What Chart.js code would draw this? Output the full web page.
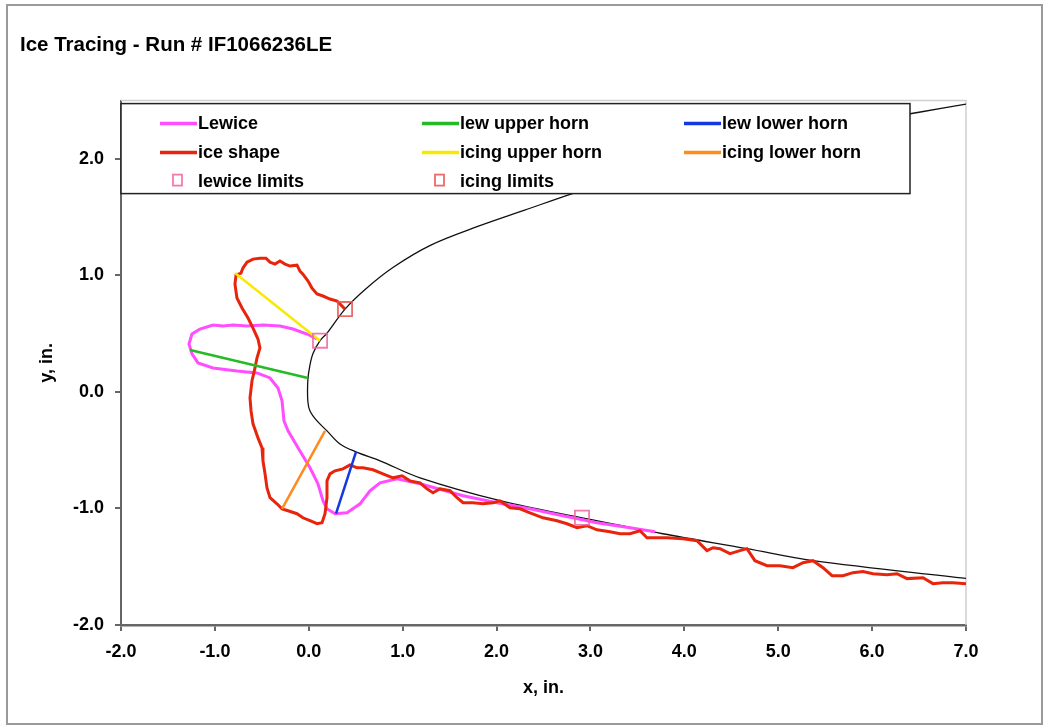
<!DOCTYPE html>
<html>
<head>
<meta charset="utf-8">
<script src="https://cdn.jsdelivr.net/npm/chart.js@4"></script>
<style>
  body { margin: 0; background: #fff; }
  #chart { display: block; }
</style>
</head>
<body>
<canvas id="chart" width="1044" height="728"></canvas>
<script>
// airfoil surface (black), upper trailing part down round the nose to lower trailing part
const airfoilX = [7.0, 6.5, 5.5, 4.5, 3.5, 2.8, 2.3, 1.8, 1.3, 0.9, 0.6, 0.386, 0.19, 0.12, 0.045, 0.01, -0.01, -0.01, 0.013, 0.088, 0.194, 0.332, 0.503, 0.759, 1.185, 2.07, 2.91, 3.77, 4.667, 5.37, 7.0];
const airfoilY = [2.47, 2.40, 2.25, 2.07, 1.88, 1.70, 1.56, 1.42, 1.26, 1.07, 0.88, 0.711, 0.50, 0.44, 0.33, 0.22, 0.10, -0.08, -0.163, -0.249, -0.334, -0.446, -0.514, -0.591, -0.737, -0.94, -1.08, -1.217, -1.345, -1.448, -1.60];

// Lewice predicted shape
const lewiceX = [0.088, -0.019, -0.168, -0.307, -0.488, -0.658, -0.807, -0.914, -1.020, -1.159, -1.244, -1.276, -1.244, -1.180, -1.020, -0.765, -0.552, -0.413, -0.328, -0.285, -0.264, -0.221, -0.094, 0.013, 0.098, 0.151, 0.194, 0.279, 0.407, 0.546, 0.652, 0.759, 0.940, 1.185, 1.643, 2.005, 2.356, 2.708, 3.070, 3.421, 3.687];
const lewiceY = [0.454, 0.497, 0.540, 0.566, 0.574, 0.566, 0.574, 0.566, 0.574, 0.540, 0.497, 0.411, 0.326, 0.249, 0.206, 0.180, 0.163, 0.120, 0.034, -0.077, -0.249, -0.334, -0.506, -0.651, -0.788, -0.934, -1.003, -1.045, -1.037, -0.960, -0.848, -0.780, -0.745, -0.788, -0.891, -0.951, -1.003, -1.063, -1.123, -1.165, -1.200];

// traced ice shape
const iceX = [0.386, 0.301, 0.226, 0.151, 0.088, 0.034, -0.008, -0.062, -0.094, -0.125, -0.200, -0.253, -0.307, -0.360, -0.413, -0.456, -0.520, -0.594, -0.658, -0.701, -0.722, -0.775, -0.786, -0.765, -0.711, -0.647, -0.594, -0.541, -0.520, -0.552, -0.573, -0.605, -0.626, -0.615, -0.594, -0.541, -0.498, -0.488, -0.466, -0.445, -0.413, -0.339, -0.285, -0.221, -0.126, -0.062, 0.013, 0.088, 0.141, 0.173, 0.194, 0.194, 0.226, 0.279, 0.364, 0.439, 0.514, 0.577, 0.684, 0.790, 0.897, 0.993, 1.078, 1.185, 1.259, 1.323, 1.398, 1.504, 1.579, 1.643, 1.749, 1.856, 1.962, 2.037, 2.143, 2.250, 2.356, 2.495, 2.644, 2.750, 2.857, 2.963, 3.070, 3.208, 3.315, 3.421, 3.528, 3.602, 3.709, 3.815, 3.986, 4.135, 4.241, 4.305, 4.380, 4.486, 4.593, 4.667, 4.752, 4.880, 5.019, 5.157, 5.264, 5.370, 5.477, 5.573, 5.690, 5.796, 5.903, 6.009, 6.159, 6.265, 6.372, 6.542, 6.648, 6.755, 6.861, 7.0];
const iceY = [0.711, 0.780, 0.797, 0.823, 0.840, 0.891, 0.951, 1.011, 1.037, 1.088, 1.080, 1.097, 1.123, 1.097, 1.114, 1.148, 1.148, 1.140, 1.114, 1.063, 1.020, 1.003, 0.925, 0.806, 0.720, 0.634, 0.548, 0.454, 0.377, 0.291, 0.206, 0.094, -0.051, -0.163, -0.274, -0.394, -0.480, -0.591, -0.703, -0.823, -0.908, -0.960, -1.003, -1.020, -1.045, -1.080, -1.105, -1.131, -1.123, -1.045, -0.908, -0.763, -0.703, -0.677, -0.660, -0.626, -0.651, -0.651, -0.668, -0.703, -0.737, -0.720, -0.763, -0.780, -0.831, -0.865, -0.831, -0.848, -0.908, -0.951, -0.951, -0.960, -0.951, -0.934, -0.994, -1.003, -1.037, -1.080, -1.105, -1.131, -1.165, -1.148, -1.183, -1.200, -1.217, -1.217, -1.191, -1.251, -1.251, -1.251, -1.260, -1.277, -1.362, -1.337, -1.345, -1.388, -1.362, -1.345, -1.448, -1.491, -1.491, -1.508, -1.465, -1.448, -1.508, -1.577, -1.577, -1.551, -1.542, -1.560, -1.568, -1.560, -1.602, -1.594, -1.645, -1.637, -1.637, -1.645];

// horn lines
const lewUpperX = [-1.265, -0.009];
const lewUpperY = [0.36, 0.12];
const lewLowerX = [0.29, 0.503];
const lewLowerY = [-1.045, -0.514];
const icingUpperX = [-0.786, 0.12];
const icingUpperY = [1.02, 0.44];
const icingLowerX = [-0.285, 0.173];
const icingLowerY = [-1.003, -0.334];

// limit markers
const lewiceLimitsX = [0.12, 2.91];
const lewiceLimitsY = [0.44, -1.08];
const icingLimitsX = [0.386];
const icingLimitsY = [0.711];

const xTicks = [-2, -1, 0, 1, 2, 3, 4, 5, 6, 7];
const yTicks = [-2, -1, 0, 1, 2];

const legendOrder = ['Lewice', 'lew upper horn', 'lew lower horn', 'ice shape', 'icing upper horn', 'icing lower horn', 'lewice limits', 'icing limits'];

const fontFamily = '"Liberation Sans", Arial, sans-serif';

function pts(xs, ys) {
  return xs.map((x, i) => ({ x: x, y: ys[i] }));
}

function lineSet(label, xs, ys, color, width, order) {
  return {
    label: label,
    data: pts(xs, ys),
    showLine: true,
    borderColor: color,
    backgroundColor: color,
    borderWidth: width,
    pointRadius: 0,
    tension: 0,
    order: order,
  };
}

const datasets = [
  Object.assign(lineSet('', airfoilX, airfoilY, '#111', 1.3, 10), { tension: 0.35 }),
  lineSet('Lewice', lewiceX, lewiceY, '#ff4dff', 3, 6),
  lineSet('ice shape', iceX, iceY, '#e8250c', 3, 5),
  lineSet('lew upper horn', lewUpperX, lewUpperY, '#26bb26', 2.5, 3),
  lineSet('lew lower horn', lewLowerX, lewLowerY, '#1438e0', 2.5, 3),
  lineSet('icing upper horn', icingUpperX, icingUpperY, '#f7ea00', 2.5, 3),
  lineSet('icing lower horn', icingLowerX, icingLowerY, '#ff8a1e', 2.5, 3),
  {
    label: 'lewice limits',
    data: pts(lewiceLimitsX, lewiceLimitsY),
    pointStyle: 'rect',
    pointRadius: 10,
    borderColor: 'rgba(240,100,160,0.85)',
    backgroundColor: 'rgba(0,0,0,0)',
    borderWidth: 1.8,
    order: 1,
  },
  {
    label: 'icing limits',
    data: pts(icingLimitsX, icingLimitsY),
    pointStyle: 'rect',
    pointRadius: 10,
    borderColor: 'rgba(232,80,80,0.85)',
    backgroundColor: 'rgba(0,0,0,0)',
    borderWidth: 1.8,
    order: 1,
  },
];

const frame = {
  id: 'frame',
  beforeDraw(chart) {
    const { ctx, width, height } = chart;
    ctx.save();
    ctx.fillStyle = '#fff';
    ctx.fillRect(0, 0, width, height);
    ctx.strokeStyle = '#9a9a9a';
    ctx.lineWidth = 2;
    ctx.strokeRect(7, 5, width - 9, height - 9);
    ctx.restore();
  },
  beforeDatasetsDraw(chart) {
    const { ctx, chartArea } = chart;
    ctx.save();
    ctx.strokeStyle = '#d0d0d0';
    ctx.lineWidth = 1.5;
    ctx.beginPath();
    ctx.moveTo(chartArea.left, chartArea.top);
    ctx.lineTo(chartArea.right, chartArea.top);
    ctx.lineTo(chartArea.right, chartArea.bottom);
    ctx.stroke();
    ctx.restore();
  },
};

// legend box drawn inside the plot, over the airfoil line
const legendBox = {
  id: 'legendBox',
  afterDatasetsDraw(chart) {
    const { ctx, chartArea } = chart;
    const left = chartArea.left;
    const top = chartArea.top + 3;
    ctx.save();
    ctx.fillStyle = '#fff';
    ctx.fillRect(left, top, 789, 90);
    ctx.strokeStyle = '#222';
    ctx.lineWidth = 1.5;
    ctx.strokeRect(left, top, 789, 90);
    ctx.font = 'bold 18px ' + fontFamily;
    ctx.textBaseline = 'middle';
    legendOrder.forEach((label, i) => {
      const ds = chart.data.datasets.find((d) => d.label === label);
      const col = i % 3;
      const row = Math.floor(i / 3);
      const x = left + 39 + col * 262;
      const y = top + 20 + row * 29;
      if (ds.showLine) {
        ctx.strokeStyle = ds.borderColor;
        ctx.lineWidth = 3.5;
        ctx.beginPath();
        ctx.moveTo(x, y);
        ctx.lineTo(x + 37, y);
        ctx.stroke();
      } else {
        ctx.strokeStyle = ds.borderColor;
        ctx.lineWidth = 1.8;
        ctx.strokeRect(x + 13, y - 7, 9, 11);
      }
      ctx.fillStyle = '#000';
      ctx.fillText(label, x + 38, y);
    });
    ctx.restore();
  },
};

const tickFont = { family: fontFamily, size: 18, weight: 'bold' };

new Chart(document.getElementById('chart').getContext('2d'), {
  type: 'scatter',
  data: { datasets: datasets },
  options: {
    responsive: false,
    animation: false,
    devicePixelRatio: 1,
    layout: { padding: { left: 20, right: 78, top: 0, bottom: 0 } },
    plugins: {
      legend: { display: false },
      tooltip: { enabled: false },
      title: {
        display: true,
        text: 'Ice Tracing - Run # IF1066236LE',
        align: 'start',
        color: '#000',
        font: { family: fontFamily, size: 20.5, weight: 'bold' },
        padding: { top: 33, bottom: 43 },
      },
    },
    scales: {
      x: {
        type: 'linear',
        min: -2,
        max: 7,
        afterBuildTicks: (s) => { s.ticks = xTicks.map((v) => ({ value: v })); },
        ticks: { callback: (v) => v.toFixed(1), color: '#000', font: tickFont, padding: 10, maxRotation: 0, autoSkip: false },
        grid: { drawOnChartArea: false, drawTicks: true, tickLength: 6, color: '#666', lineWidth: 2 },
        border: { display: true, color: '#666', width: 2.5 },
        title: { display: true, text: 'x, in.', color: '#000', font: tickFont, padding: { top: 0, bottom: 29 } },
        afterFit: (s) => { s.height = 103; },
      },
      y: {
        type: 'linear',
        min: -2,
        max: 2.5,
        afterBuildTicks: (s) => { s.ticks = yTicks.map((v) => ({ value: v })); },
        ticks: { callback: (v) => v.toFixed(1), color: '#000', font: tickFont, padding: 11, autoSkip: false },
        grid: { drawOnChartArea: false, drawTicks: true, tickLength: 6, color: '#666', lineWidth: 2 },
        border: { display: true, color: '#666', width: 2 },
        title: { display: true, text: 'y, in.', color: '#000', font: tickFont, padding: { top: 16, bottom: 0 } },
        afterFit: (s) => { s.width = 101; },
      },
    },
  },
  plugins: [frame, legendBox],
});
</script>
</body>
</html>
